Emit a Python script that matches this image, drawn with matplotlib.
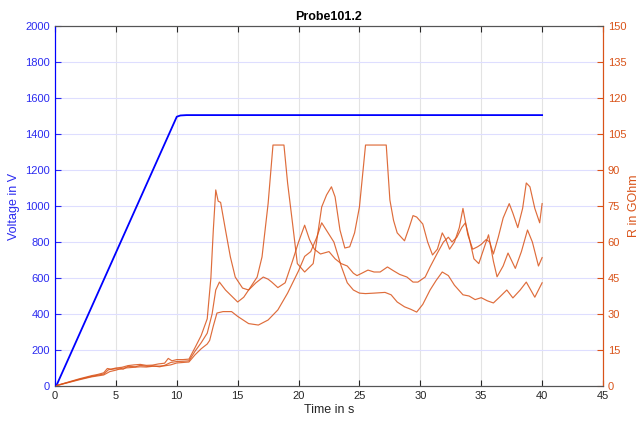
## VOLTAGE RAMP AND RESISTANCE OF PROBE 101.2
import matplotlib.pyplot as plt

## DATA:
# voltage (left axis)
t_volt_s = [0.1, 10.0, 10.3, 10.8, 40.0]
volt_V = [0, 1496, 1503, 1505, 1505]

# resistance curves (right axis), three measurements
t_a_s = [0, 1, 2, 3, 3.5, 4, 4.3, 4.6, 5, 5.5, 6, 6.5, 7, 7.5, 8, 8.5, 9, 9.3, 9.6, 10,
         10.5, 11, 11.5, 12, 12.5, 12.8, 13.0, 13.2, 13.4, 13.6, 14.0, 14.4, 14.8, 15.4,
         15.9, 16.6, 17.0, 17.5, 17.9, 18.8, 19.1, 19.5, 19.9, 20.5, 21.2, 21.5, 21.9,
         22.3, 22.7, 23.0, 23.4, 23.8, 24.2, 24.6, 25.0, 25.5, 27.2, 27.5, 27.8, 28.1,
         28.7, 29.1, 29.4, 29.7, 30.2, 30.6, 31.0, 31.4, 31.8, 32.1, 32.4, 32.8, 33.2,
         33.5, 33.9, 34.3, 34.7, 35.0, 35.4, 35.7, 36.0, 36.4, 36.8, 37.3, 37.6, 38.0,
         38.4, 38.7, 39.0, 39.4, 39.8, 40.0]
r_a_GOhm = [0, 1.5, 3.0, 4.3, 4.8, 5.5, 7.3, 7.0, 7.5, 7.8, 8.5, 8.8, 9.0, 8.6, 8.7, 9.2,
            9.5, 11.5, 10.5, 11.0, 11.0, 11.2, 16, 21, 28, 45, 65, 81.7, 77, 76.5, 65,
            53.8, 45.4, 40.8, 40, 45.4, 53.8, 76, 100.4, 100.4, 84.6, 68, 51, 47.5, 51,
            60.8, 74.6, 79.6, 83, 78.8, 65, 57.5, 58, 63.8, 74.6, 100.4, 100.4, 77.5, 69,
            63.8, 60.5, 66.3, 71, 70.4, 67.5, 60, 54.6, 57, 63.8, 61, 57, 60, 66,
            74, 63, 57, 58, 59, 61, 60, 55, 62, 70, 76, 72, 66,
            74, 84.6, 83, 74, 68, 76]

t_b_s = [0, 1, 2, 3, 4, 4.4, 5, 5.6, 6, 6.6, 7, 7.6, 8, 8.6, 9, 9.5, 10, 10.5, 11, 11.5,
         12, 12.5, 12.9, 13.2, 13.5, 14.0, 14.4, 15.0, 15.5, 15.9, 16.5, 17.1, 17.5, 17.8,
         18.3, 18.9, 19.5, 20.0, 20.5, 20.9, 21.3, 21.8, 22.5, 23.0, 23.5, 24.0, 24.5,
         24.8, 25.2, 25.7, 26.2, 26.7, 27.3, 27.8, 28.3, 28.9, 29.4, 29.8, 30.4, 30.8,
         31.4, 31.9, 32.3, 32.6, 33.0, 33.4, 33.7, 34.0, 34.4, 34.8, 35.2, 35.6, 36.0,
         36.3, 36.8, 37.2, 37.8, 38.3, 38.8, 39.2, 39.7, 40.0]
r_b_GOhm = [0, 1.4, 2.8, 4.0, 5.0, 6.8, 7.2, 7.0, 8.2, 8.0, 8.6, 8.2, 8.4, 8.0, 8.6, 9.8,
            10.2, 10.3, 10.5, 14.5, 18, 22, 30, 40, 43.3, 40, 38, 35, 37, 40, 43, 45.4,
            44.5, 43.3, 41, 43, 52, 60, 67, 61, 57, 55, 56, 53, 51, 50, 47,
            46, 47, 48.3, 47.5, 47.5, 49.6, 48, 46.5, 45.4, 43.3, 43.3, 45.4, 49.6,
            55.4, 60, 62, 60, 62, 66, 68, 62, 53, 51, 57, 63, 52,
            45.5, 50, 55.4, 49, 56, 65, 60, 50, 53.5]

t_c_s = [0, 1, 2, 3, 4, 4.5, 5, 5.5, 6, 6.5, 7, 7.5, 8, 8.5, 9, 9.5, 10, 10.5, 11, 11.5,
         12, 12.5, 12.7, 13.0, 13.3, 13.8, 14.5, 15.0, 15.9, 16.7, 17.5, 18.3, 19.1,
         20.0, 20.5, 21.0, 21.5, 21.9, 22.4, 22.9, 23.5, 24.0, 24.5, 25.0, 25.5, 26.2,
         27.1, 27.6, 28.1, 28.7, 29.2, 29.7, 30.2, 30.8, 31.3, 31.8, 32.3, 32.8, 33.5,
         34.0, 34.5, 35.0, 35.5, 36.0, 36.5, 37.1, 37.6, 38.2, 38.7, 39.4, 40.0]
r_c_GOhm = [0, 1.3, 2.6, 3.8, 4.6, 6.0, 6.6, 7.4, 7.6, 7.8, 8.0, 7.9, 8.2, 8.3, 8.4, 8.8,
            9.6, 9.8, 10, 13, 15.5, 17.5, 19, 25, 30.4, 31, 31, 29, 26, 25.4, 27.5, 31.7,
            38.7, 48, 54, 56, 62, 68, 64, 60, 50, 43, 40, 38.7, 38.5, 38.7,
            39, 38, 35, 33, 32, 30.8, 34, 40, 44, 47.5, 46, 42, 38,
            37.5, 36, 36.8, 35.5, 34.6, 37, 40, 36.7, 40, 43.3, 37, 43]

## COLORS:
blue = '#0000ff'
orange = '#D95319'

## FIGURE:
plt.rcParams['font.family'] = ['Liberation Sans', 'DejaVu Sans']
fig = plt.figure(figsize=(6.41, 4.23), dpi=100)
ax = fig.add_axes([55 / 641, 37 / 423, 548 / 641, 360 / 423])
ax2 = ax.twinx()

ax.plot(t_volt_s, volt_V, color=blue, lw=1.3)
for t, r in [(t_a_s, r_a_GOhm), (t_b_s, r_b_GOhm), (t_c_s, r_c_GOhm)]:
    ax2.plot(t, r, color=orange, lw=0.85, alpha=0.85)

ax.set_xlim(0, 45)
ax.set_ylim(0, 2000)
ax2.set_ylim(0, 150)
ax.set_xticks(range(0, 46, 5))
ax.set_yticks(range(0, 2001, 200))
ax2.set_yticks(range(0, 151, 15))

# grid: vertical gray, horizontal light blue
ax.grid(axis='x', color='#e3e3e3', lw=0.8)
ax.grid(axis='y', color='#dedeff', lw=0.8)
ax.set_axisbelow(True)

# spines and ticks
for a in (ax, ax2):
    a.spines['top'].set_color('#555555')
    a.spines['bottom'].set_color('#555555')
    a.spines['left'].set_color(blue)
    a.spines['right'].set_color(orange)
ax.tick_params(axis='x', direction='in', top=True, length=4, colors='#262626', labelsize=8)
ax.tick_params(axis='y', direction='in', length=4, colors='#2b2bf0', labelsize=8)
ax2.tick_params(axis='y', direction='in', length=4, colors=orange, labelsize=8)

ax.set_title('Probe101.2', fontsize=9, fontweight='bold', pad=4)
ax.set_xlabel('Time in s', fontsize=9, color='#262626', labelpad=2)
ax.set_ylabel('Voltage in V', fontsize=9, color='#2b2bf0')
ax2.set_ylabel('R in GOhm', fontsize=9, color=orange, labelpad=1)

fig.savefig('out.png', dpi=100)
